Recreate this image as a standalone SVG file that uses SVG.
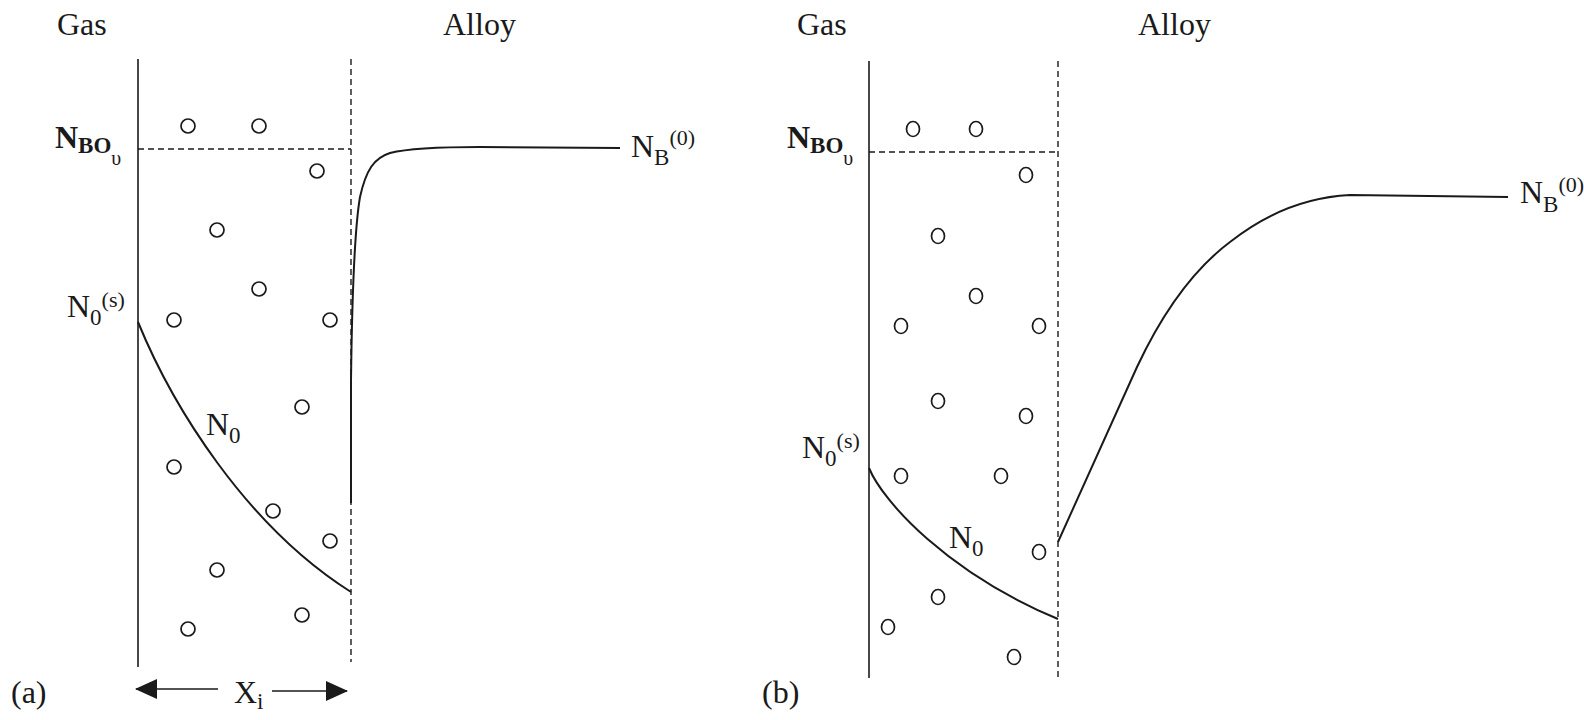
<svg xmlns="http://www.w3.org/2000/svg" width="1584" height="720" viewBox="0 0 1584 720">
<style>
  .lbl { font-size: 32px; }
  .sub { font-size: 23px; }
  .sup { font-size: 22px; }
  .bold { font-weight: bold; }
  .solid { stroke: #1a1a1a; stroke-width: 1.6; fill: none; }
  .dash { stroke: #1a1a1a; stroke-width: 1.4; fill: none; stroke-dasharray: 6 4; }
  .curve { stroke: #1a1a1a; stroke-width: 2; fill: none; }
  .dot { stroke: #1a1a1a; stroke-width: 1.7; fill: none; }
</style>
<defs>
  <marker id="ah" markerWidth="22" markerHeight="20" refX="21" refY="10" orient="auto" markerUnits="userSpaceOnUse">
    <path d="M0,0 L22,10 L0,20 Z" fill="#1a1a1a"/>
  </marker>
</defs>
<rect width="1584" height="720" fill="#ffffff"/>

<!-- Panel (a) -->
<g id="panel-a">
  <g id="a-frame">
    <line class="solid" x1="138" y1="59" x2="138" y2="667"/>
    <line class="dash" x1="351" y1="59" x2="351" y2="662"/>
    <line class="dash" x1="138" y1="149" x2="351" y2="149"/>
  </g>
  <g id="a-particles">
    <ellipse class="dot" cx="188" cy="126" rx="7" ry="7"/>
    <ellipse class="dot" cx="259" cy="126" rx="7" ry="7"/>
    <ellipse class="dot" cx="317" cy="171" rx="7" ry="7"/>
    <ellipse class="dot" cx="217" cy="230" rx="7" ry="7"/>
    <ellipse class="dot" cx="259" cy="289" rx="7" ry="7"/>
    <ellipse class="dot" cx="174" cy="320" rx="7" ry="7"/>
    <ellipse class="dot" cx="330" cy="320" rx="7" ry="7"/>
    <ellipse class="dot" cx="302" cy="407" rx="7" ry="7"/>
    <ellipse class="dot" cx="174" cy="467" rx="7" ry="7"/>
    <ellipse class="dot" cx="273" cy="511" rx="7" ry="7"/>
    <ellipse class="dot" cx="330" cy="541" rx="7" ry="7"/>
    <ellipse class="dot" cx="217" cy="570" rx="7" ry="7"/>
    <ellipse class="dot" cx="302" cy="615" rx="7" ry="7"/>
    <ellipse class="dot" cx="188" cy="629" rx="7" ry="7"/>
  </g>
  <g id="a-curves">
    <path class="curve" d="M138,322 C172,405 245,525 351,592"/>
    <path class="curve" d="M351,503 L351,380 C352,300 354,232 360,197 C366,170 374,158 390,153 C410,148 440,147 480,147 L620,148"/>
  </g>
  <g id="a-labels" fill="#1a1a1a">
    <text font-family="Liberation Serif" class="lbl" x="57" y="35">Gas</text>
    <text font-family="Liberation Serif" class="lbl" x="443" y="35">Alloy</text>
    <text font-family="Liberation Serif" x="55" y="148"><tspan class="lbl bold">N</tspan><tspan class="sub bold" dy="5">BO</tspan><tspan font-size="20" dy="12">υ</tspan></text>
    <text font-family="Liberation Serif" x="67" y="317"><tspan class="lbl">N</tspan><tspan class="sub" dy="8">0</tspan><tspan class="sup" dy="-18">(s)</tspan></text>
    <text font-family="Liberation Serif" x="206" y="435"><tspan class="lbl">N</tspan><tspan class="sub" dy="8">0</tspan></text>
    <text font-family="Liberation Serif" x="631" y="157"><tspan class="lbl">N</tspan><tspan class="sub" dy="8">B</tspan><tspan class="sup" dy="-20">(0)</tspan></text>
    <text font-family="Liberation Serif" class="lbl" x="11" y="703">(a)</text>
  </g>
  <g id="a-dimension" fill="#1a1a1a">
    <line class="solid" x1="218" y1="689" x2="136" y2="689" stroke-width="2.4" marker-end="url(#ah)"/>
    <line class="solid" x1="272" y1="691" x2="347" y2="691" stroke-width="2.4" marker-end="url(#ah)"/>
    <text font-family="Liberation Serif" x="234" y="703"><tspan class="lbl">X</tspan><tspan class="sub" dy="6">i</tspan></text>
  </g>
</g>

<!-- Panel (b) -->
<g id="panel-b">
  <g id="b-frame">
    <line class="solid" x1="869" y1="61" x2="869" y2="678"/>
    <line class="dash" x1="1058" y1="61" x2="1058" y2="678"/>
    <line class="dash" x1="869" y1="152" x2="1058" y2="152"/>
  </g>
  <g id="b-particles">
    <ellipse class="dot" cx="913" cy="129" rx="6.5" ry="7.5"/>
    <ellipse class="dot" cx="976" cy="129" rx="6.5" ry="7.5"/>
    <ellipse class="dot" cx="1026" cy="175" rx="6.5" ry="7.5"/>
    <ellipse class="dot" cx="938" cy="236" rx="6.5" ry="7.5"/>
    <ellipse class="dot" cx="976" cy="296" rx="6.5" ry="7.5"/>
    <ellipse class="dot" cx="901" cy="326" rx="6.5" ry="7.5"/>
    <ellipse class="dot" cx="1039" cy="326" rx="6.5" ry="7.5"/>
    <ellipse class="dot" cx="938" cy="401" rx="6.5" ry="7.5"/>
    <ellipse class="dot" cx="1026" cy="416" rx="6.5" ry="7.5"/>
    <ellipse class="dot" cx="901" cy="476" rx="6.5" ry="7.5"/>
    <ellipse class="dot" cx="1001" cy="476" rx="6.5" ry="7.5"/>
    <ellipse class="dot" cx="1039" cy="552" rx="6.5" ry="7.5"/>
    <ellipse class="dot" cx="938" cy="597" rx="6.5" ry="7.5"/>
    <ellipse class="dot" cx="888" cy="627" rx="6.5" ry="7.5"/>
    <ellipse class="dot" cx="1014" cy="657" rx="6.5" ry="7.5"/>
  </g>
  <g id="b-curves">
    <path class="curve" d="M869,468 C883,502 948,573 1058,619"/>
    <path class="curve" d="M1058,542 L1137,367 C1160,318 1190,272 1230,242 C1268,212 1310,197 1350,195 L1508,197"/>
  </g>
  <g id="b-labels" fill="#1a1a1a">
    <text font-family="Liberation Serif" class="lbl" x="797" y="35">Gas</text>
    <text font-family="Liberation Serif" class="lbl" x="1138" y="35">Alloy</text>
    <text font-family="Liberation Serif" x="787" y="148"><tspan class="lbl bold">N</tspan><tspan class="sub bold" dy="5">BO</tspan><tspan font-size="20" dy="12">υ</tspan></text>
    <text font-family="Liberation Serif" x="802" y="458"><tspan class="lbl">N</tspan><tspan class="sub" dy="8">0</tspan><tspan class="sup" dy="-18">(s)</tspan></text>
    <text font-family="Liberation Serif" x="949" y="548"><tspan class="lbl">N</tspan><tspan class="sub" dy="8">0</tspan></text>
    <text font-family="Liberation Serif" x="1520" y="203"><tspan class="lbl">N</tspan><tspan class="sub" dy="9">B</tspan><tspan class="sup" dy="-20">(0)</tspan></text>
    <text font-family="Liberation Serif" class="lbl" x="762" y="703">(b)</text>
  </g>
</g>
</svg>
